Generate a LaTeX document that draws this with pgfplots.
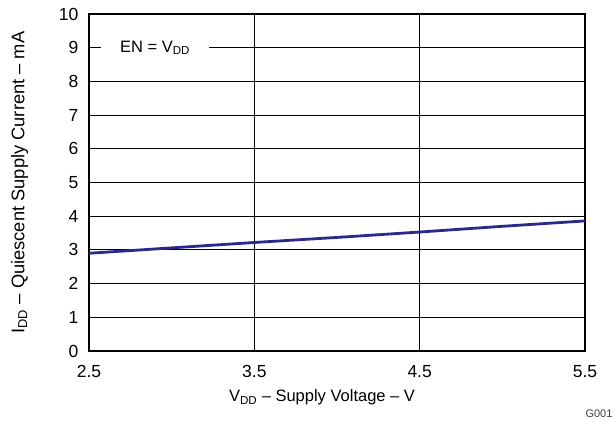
\documentclass[border=0pt]{standalone}
\usepackage{pgfplots}
\pgfplotsset{compat=1.18}
\usepackage{fontspec}
\setmainfont{Liberation Sans}
\definecolor{curve}{RGB}{42,42,140}
\begin{document}
\begin{tikzpicture}[x=1pt,y=1pt]
\path[use as bounding box] (-89,-71) rectangle (527,351);
\begin{axis}[
  at={(0,0)}, anchor=south west,
  scale only axis, width=496pt, height=337pt,
  xmin=2.5, xmax=5.5, ymin=0, ymax=10,
  xtick={2.5,3.5,4.5,5.5},
  xticklabels={2.5,3.5,4.5,5.5},
  ytick={0,1,...,10},
  grid=major,
  major grid style={black, line width=0.9pt},
  axis line style={black, line width=1.3pt},
  tick style={draw=none},
  ticklabel style={font=\fontsize{17.5}{19}\selectfont},
  /pgf/number format/assume math mode=true,
  xticklabel style={yshift=-11pt},
  yticklabel style={xshift=-7pt},
  xlabel={V\textsubscript{DD} -- Supply Voltage -- V},
  ylabel={I\textsubscript{DD} -- Quiescent Supply Current -- mA},
  xlabel style={font=\fontsize{16.5}{18}\selectfont, yshift=-5pt, xshift=-15pt},
  ylabel style={font=\fontsize{18.3}{20}\selectfont, yshift=24pt},
  clip=false,
]
\addplot[curve, line width=2.8pt] coordinates {
 (2.5,2.90) (3.0,3.06) (3.5,3.22) (4.0,3.37) (4.5,3.53) (5.0,3.70) (5.5,3.86)
};
\node[fill=white, inner sep=0pt, minimum width=108pt, minimum height=22pt, font=\fontsize{16.5}{18}\selectfont] at (axis cs:2.90,9.0) {EN = V\textsubscript{DD}};
\node[anchor=east, font=\fontsize{11}{12}\selectfont, gray!50!black] at (rel axis cs:1,0) [yshift=-63pt, xshift=31pt] {G001};
\end{axis}
\end{tikzpicture}
\end{document}
